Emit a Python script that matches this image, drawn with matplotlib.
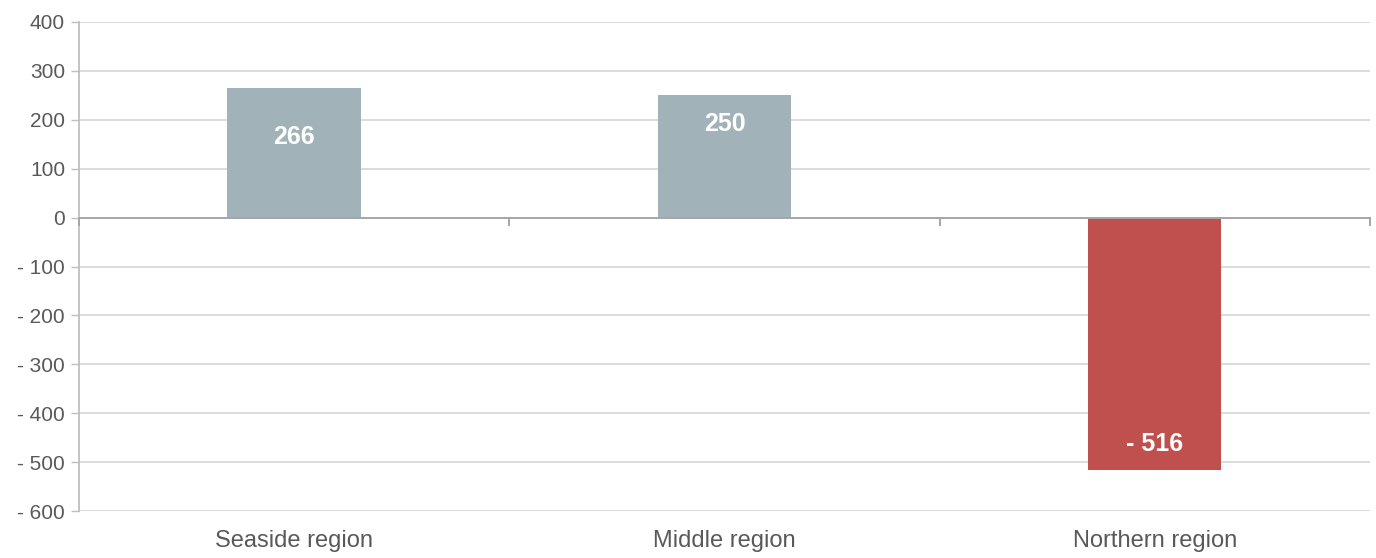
import matplotlib.pyplot as plt
from matplotlib.ticker import FuncFormatter

plt.rcParams['font.family'] = ['Liberation Sans', 'DejaVu Sans']

# data
regions = ["Seaside region", "Middle region", "Northern region"]
values = [266, 250, -516]
bar_colors = ["#A1B3B9", "#A1B3B9", "#C0504D"]


def fmt(v, pos=None):
    v = int(round(v))
    if v < 0:
        return "- " + str(-v)
    return str(v)


fig = plt.figure(figsize=(13.76, 5.58), dpi=100)
ax = fig.add_axes([0.0574, 0.0842, 0.9382, 0.8764])

x = list(range(len(regions)))
ax.bar(x, values, width=0.31, color=bar_colors, zorder=3)

ax.set_xlim(-0.5, len(regions) - 0.5)
ax.set_ylim(-600, 400)
ax.set_yticks(range(-600, 401, 100))
ax.yaxis.set_major_formatter(FuncFormatter(fmt))
ax.grid(axis='y', color='#D9D9D9', linewidth=1.3, zorder=0)

ax.set_xticks(x)
ax.set_xticklabels(regions)
ax.tick_params(axis='x', length=0, pad=14, labelsize=17, labelcolor='#595959')
ax.tick_params(axis='y', length=6, width=1, color='#BFBFBF', labelsize=15,
               labelcolor='#595959', pad=4)

for s in ['top', 'right', 'bottom']:
    ax.spines[s].set_visible(False)
ax.spines['left'].set_color('#BFBFBF')
ax.spines['left'].set_linewidth(1.3)

# zero axis line with category boundary ticks
ax.axhline(0, color='#A6A6A6', linewidth=1.4, zorder=4)
for b in [i - 0.5 for i in range(len(regions) + 1)]:
    ax.plot([b, b], [0, -16], color='#A6A6A6', linewidth=1.4, zorder=4, clip_on=False)

# labels inside bars
label_shift = [102, 58, -53]
for xi, v, d in zip(x, values, label_shift):
    ax.text(xi, v - d, fmt(v), ha='center', va='center', color='white',
            fontsize=18, fontweight='bold', zorder=5)

fig.savefig("out.png", dpi=100)
